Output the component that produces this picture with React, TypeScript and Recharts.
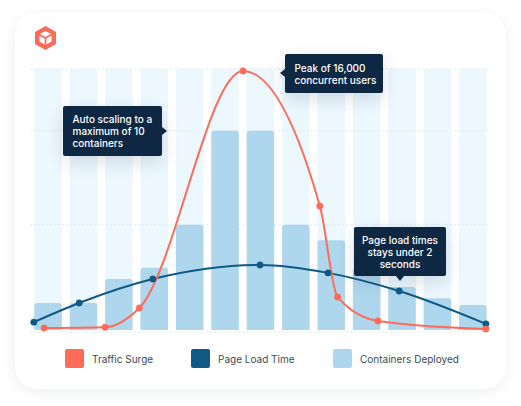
import React from "react";
import { Bar, CartesianGrid, ComposedChart, Line, XAxis, YAxis } from "recharts";

const hours = ["1", "2", "3", "4", "5", "6", "7", "8", "9", "10", "11", "12", "13"];
const containers = [1.36, 1.36, 2.56, 3.12, 5.28, 10, 10, 5.28, 4.5, 3.1, 2.16, 1.6, 1.26];
const capacity = [13.1, 13.1, 13.1, 13.1, 13.1, 13.1, 13.1, 13.1, 13.1, 13.1, 13.1, 13.1, 13.1];
const gridLevels = [13.1, 10, 5.28, -0.1];

const trafficTimes = [0.39, 2.11, 3.08, 6.01, 8.18, 8.68, 9.82, 12.87];
const trafficUsers = [124, 170, 1360, 16000, 7660, 2040, 560, 60];

const loadTimes = [0.1, 1.38, 3.46, 6.49, 8.41, 10.42, 12.87];
const loadSeconds = [0.23, 0.79, 1.49, 1.9, 1.67, 1.14, 0.18];

const RED = "#ff6a59";
const BLUE = "#0f5a85";
const BAR = "#aed6ed";
const NAVY = "#0e2743";

const barData = hours.map((hour, i) => ({ hour, containers: containers[i], capacity: capacity[i] }));
const trafficData = trafficTimes.map((t, i) => ({ t, users: trafficUsers[i] }));
const loadData = loadTimes.map((t, i) => ({ t, seconds: loadSeconds[i] }));

const legendItems = [
  { label: "Traffic Surge", color: RED, left: 65 },
  { label: "Page Load Time", color: BLUE, left: 191 },
  { label: "Containers Deployed", color: BAR, left: 333 },
];

function Callout({ box, arrow, align, lines }: any) {
  return (
    <div
      style={{
        position: "absolute",
        ...box,
        boxSizing: "border-box",
        background: NAVY,
        borderRadius: 2,
        boxShadow: "0 6px 18px rgba(14,39,67,0.14)",
        color: "#fff",
        fontSize: 10,
        fontWeight: 500,
        lineHeight: "12px",
        textAlign: align,
        paddingLeft: align === "left" ? 9.5 : 0,
        display: "flex",
        flexDirection: "column",
        justifyContent: "center",
        whiteSpace: "nowrap",
      }}
    >
      {lines.map((l: string) => (
        <div key={l}>{l}</div>
      ))}
      <div style={{ position: "absolute", width: 0, height: 0, ...arrow }} />
    </div>
  );
}

export default function App() {
  return (
    <div
      style={{
        position: "absolute",
        left: 0,
        top: 0,
        width: 521,
        height: 406,
        background: "#fff",
        overflow: "hidden",
        fontFamily: "Inter, sans-serif",
      }}
    >
      <div
        style={{
          position: "absolute",
          left: 15,
          top: 13,
          width: 491,
          height: 376,
          background: "#fff",
          borderRadius: 22,
          boxShadow: "0 3px 14px rgba(30,50,80,0.08)",
        }}
      />
      <svg style={{ position: "absolute", left: 34, top: 25 }} width={23} height={26} viewBox="0 0 23 26">
        <path d="M11.5 1 L22 7 L22 19 L11.5 25 L1 19 L1 7 Z" fill={RED} />
        <path
          d="M11.5 6 L17 9 L11.5 12 L6 9 Z M5.5 10.8 L10.6 13.6 L10.6 19.4 L5.5 16.4 Z M17.5 10.8 L12.4 13.6 L12.4 19.4 L17.5 16.4 Z"
          fill="#fff"
        />
      </svg>
      <div style={{ position: "absolute", left: 0, top: 0 }}>
        <ComposedChart
          width={521}
          height={406}
          data={barData}
          barSize={27.5}
          barGap={-27.5}
          margin={{ top: 69, right: 30.5, bottom: 74, left: 30.3 }}
        >
          <CartesianGrid
            vertical={false}
            yAxisId="containers"
            horizontalValues={gridLevels}
            stroke="#d9e8f7"
            strokeDasharray="2 2"
          />
          <XAxis dataKey="hour" hide />
          <XAxis xAxisId="time" type="number" dataKey="t" domain={[0, 13]} hide />
          <YAxis yAxisId="containers" domain={[-0.1, 13.1]} hide />
          <YAxis yAxisId="users" domain={[-124, 16124]} hide />
          <YAxis yAxisId="seconds" domain={[-0.058, 7.63]} hide />
          <Bar
            yAxisId="containers"
            dataKey="capacity"
            fill="#d9f0fe"
            fillOpacity={0.5}
            radius={2}
            isAnimationActive={false}
          />
          <Bar yAxisId="containers" dataKey="containers" fill={BAR} radius={[3, 3, 0, 0]} isAnimationActive={false} />
          <Line
            data={loadData}
            xAxisId="time"
            yAxisId="seconds"
            dataKey="seconds"
            type="monotone"
            stroke={BLUE}
            strokeWidth={2}
            dot={{ r: 3.2, fill: BLUE, stroke: BLUE, strokeWidth: 0.5 }}
            isAnimationActive={false}
          />
          <Line
            data={trafficData}
            xAxisId="time"
            yAxisId="users"
            dataKey="users"
            type="monotone"
            stroke={RED}
            strokeWidth={2}
            dot={{ r: 3.2, fill: RED, stroke: RED, strokeWidth: 0.5 }}
            isAnimationActive={false}
          />
        </ComposedChart>
      </div>
      <Callout
        box={{ left: 63, top: 106, width: 99, height: 50 }}
        align="left"
        lines={["Auto scaling to a", "maximum of 10", "containers"]}
        arrow={{
          left: 99,
          top: 20.5,
          borderTop: "4px solid transparent",
          borderBottom: "4px solid transparent",
          borderLeft: `5px solid ${NAVY}`,
        }}
      />
      <Callout
        box={{ left: 285, top: 54, width: 98, height: 39 }}
        align="left"
        lines={["Peak of 16,000", "concurrent users"]}
        arrow={{
          left: -5,
          top: 15,
          borderTop: "4px solid transparent",
          borderBottom: "4px solid transparent",
          borderRight: `5px solid ${NAVY}`,
        }}
      />
      <Callout
        box={{ left: 354, top: 227, width: 92, height: 49 }}
        align="center"
        lines={["Page load times", "stays under 2", "seconds"]}
        arrow={{
          left: 42,
          top: 49,
          borderLeft: "4px solid transparent",
          borderRight: "4px solid transparent",
          borderTop: `5px solid ${NAVY}`,
        }}
      />
      {legendItems.map((item) => (
        <div
          key={item.label}
          style={{
            position: "absolute",
            left: item.left,
            top: 349,
            height: 19,
            display: "flex",
            alignItems: "center",
            whiteSpace: "nowrap",
            fontSize: 10,
            color: "#3a4a58",
          }}
        >
          <div style={{ width: 19, height: 19, borderRadius: 2, background: item.color, marginRight: 8 }} />
          {item.label}
        </div>
      ))}
    </div>
  );
}
